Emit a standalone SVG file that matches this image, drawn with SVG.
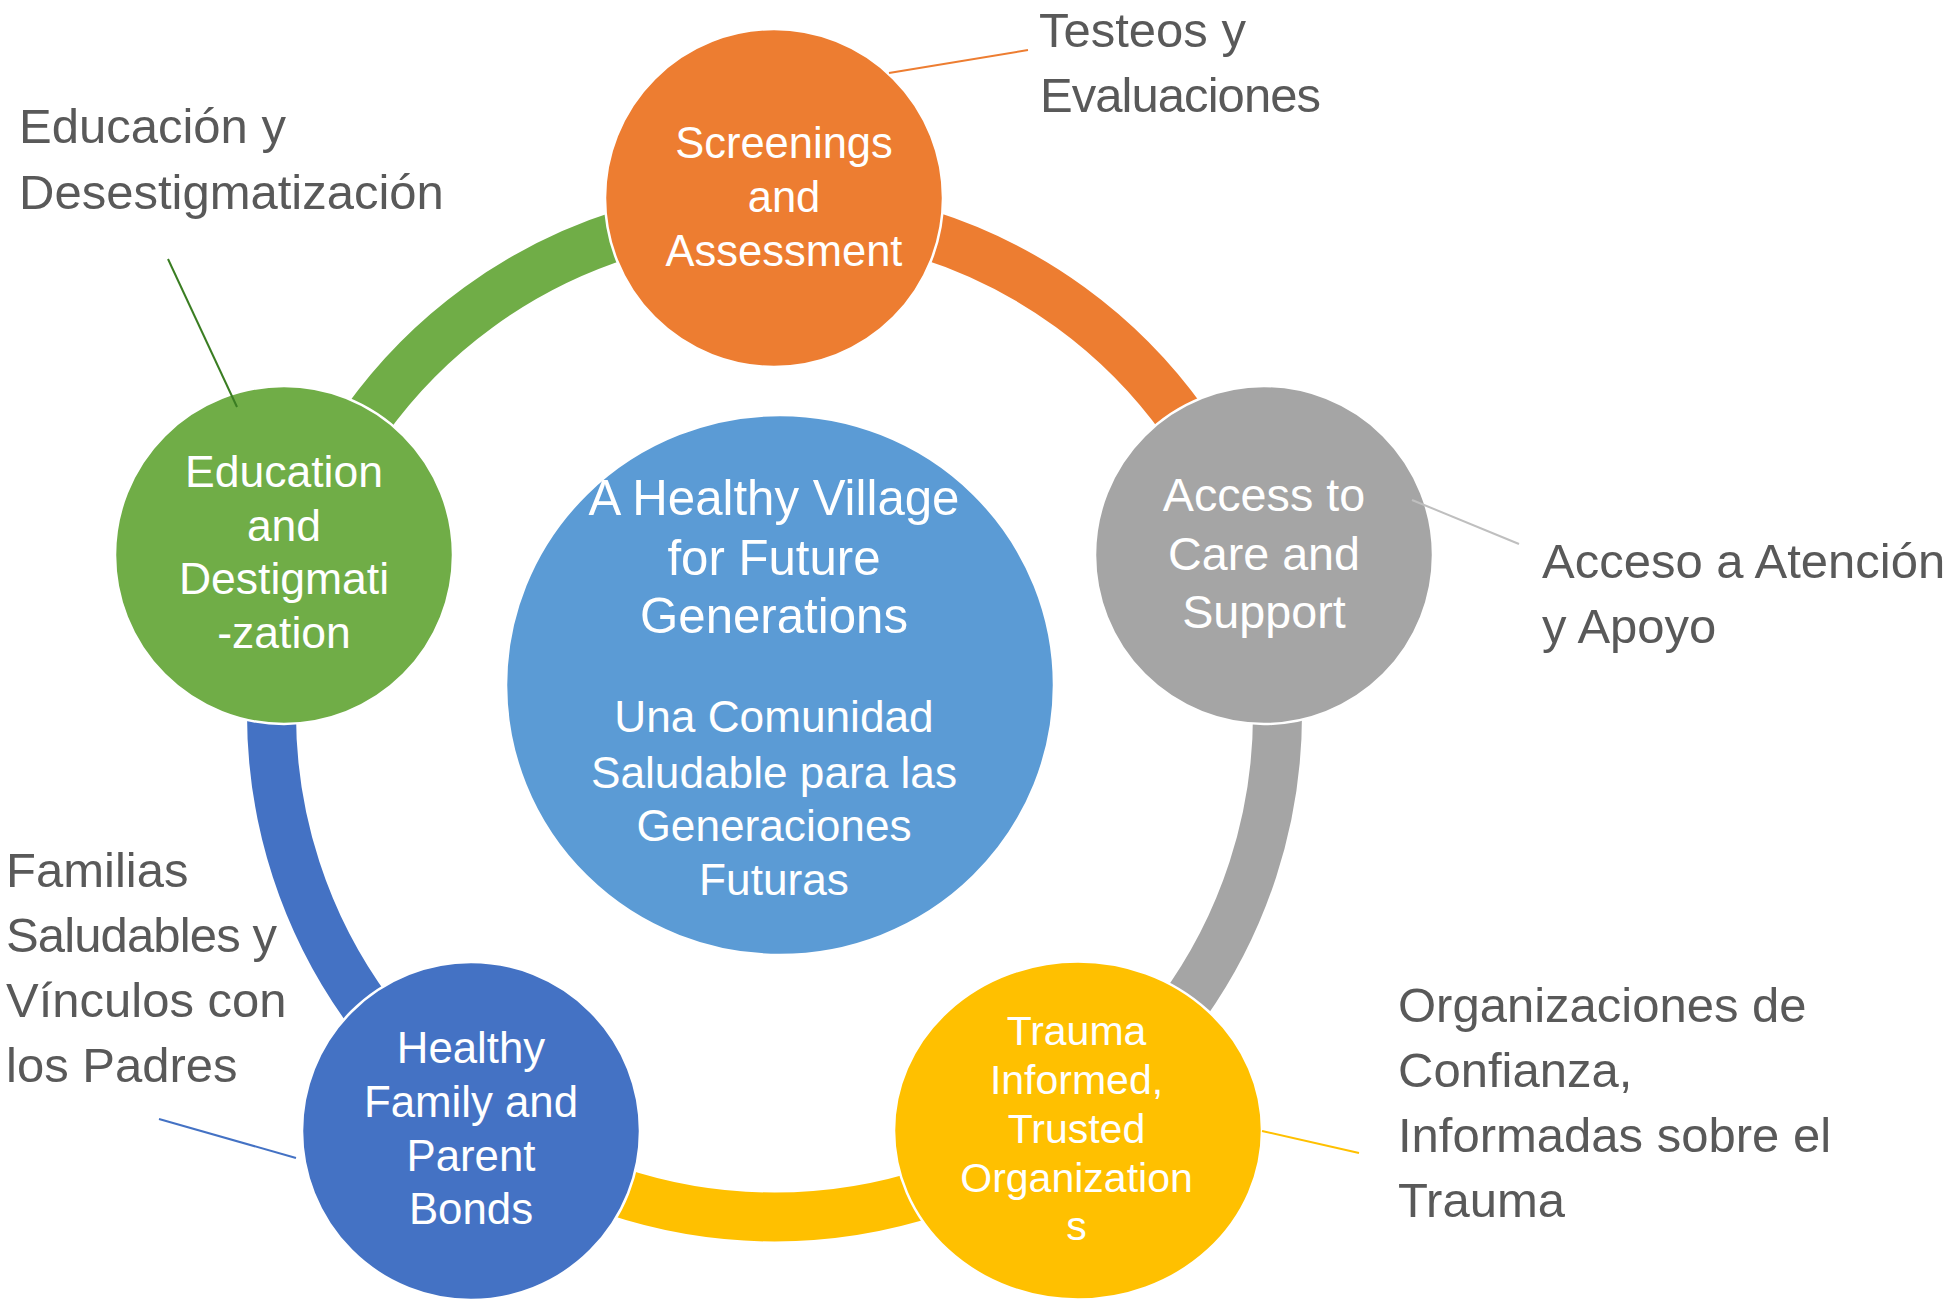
<svg xmlns="http://www.w3.org/2000/svg" width="1959" height="1311" viewBox="0 0 1959 1311">
<style>
text { font-family: "Liberation Sans", Arial, sans-serif; }
.lbl { fill: #595959; font-size: 49px; }
.node { fill: #ffffff; text-anchor: middle; }
.band { fill: none; stroke-width: 49; stroke-linecap: butt; }
.disc { stroke: #ffffff; stroke-width: 2.5; }
.leader { fill: none; stroke-width: 2; }
</style>
<rect width="1959" height="1311" fill="#ffffff"/>

<g id="connectors">
  <path class="band" stroke="#ed7d31" d="M 774.5 211 A 503 503 0 0 1 1252.9 558.6"/>
  <path class="band" stroke="#a5a5a5" d="M 1252.9 558.6 A 503 503 0 0 1 1070.2 1120.9"/>
  <path class="band" stroke="#ffc000" d="M 1070.2 1120.9 A 503 503 0 0 1 478.8 1120.9"/>
  <path class="band" stroke="#4472c4" d="M 478.8 1120.9 A 503 503 0 0 1 296.1 558.6"/>
  <path class="band" stroke="#70ad47" d="M 296.1 558.6 A 503 503 0 0 1 774.5 211"/>
</g>

<g id="center">
  <ellipse class="disc" cx="780" cy="685" rx="274" ry="270" fill="#5b9bd5"/>
  <g class="node" font-size="49.2">
    <text x="774" y="515">A Healthy Village</text>
    <text x="774" y="575">for Future</text>
    <text x="774" y="633">Generations</text>
  </g>
  <g class="node" font-size="44.2">
    <text x="774" y="732">Una Comunidad</text>
    <text x="774" y="787.5">Saludable para las</text>
    <text x="774" y="841">Generaciones</text>
    <text x="774" y="894.6">Futuras</text>
  </g>
</g>

<g id="screenings">
  <circle class="disc" cx="774" cy="198" r="169" fill="#ed7d31"/>
  <g class="node" font-size="43.5">
    <text x="784" y="157.7">Screenings</text>
    <text x="784" y="212">and</text>
    <text x="784" y="266">Assessment</text>
  </g>
</g>

<g id="access">
  <circle class="disc" cx="1264" cy="555" r="169" fill="#a5a5a5"/>
  <g class="node" font-size="46.7">
    <text x="1264" y="511">Access to</text>
    <text x="1264" y="570">Care and</text>
    <text x="1264" y="628">Support</text>
  </g>
</g>

<g id="trauma">
  <ellipse class="disc" cx="1078" cy="1130.5" rx="184" ry="169" fill="#ffc000"/>
  <g class="node" font-size="41">
    <text x="1076.5" y="1045">Trauma</text>
    <text x="1076.5" y="1094">Informed,</text>
    <text x="1076.5" y="1142.7">Trusted</text>
    <text x="1076.5" y="1191.7">Organization</text>
    <text x="1076.5" y="1240">s</text>
  </g>
</g>

<g id="family">
  <circle class="disc" cx="471" cy="1131" r="169" fill="#4472c4"/>
  <g class="node" font-size="43.8">
    <text x="471" y="1063">Healthy</text>
    <text x="471" y="1116.7">Family and</text>
    <text x="471" y="1171">Parent</text>
    <text x="471" y="1224">Bonds</text>
  </g>
</g>

<g id="education">
  <circle class="disc" cx="284" cy="555" r="169" fill="#70ad47"/>
  <g class="node" font-size="44.5">
    <text x="284" y="487.3">Education</text>
    <text x="284" y="540.7">and</text>
    <text x="284" y="594.3">Destigmati</text>
    <text x="284" y="647.7">-zation</text>
  </g>
</g>

<g id="leaders">
  <line class="leader" stroke="#ed7d31" x1="889" y1="73" x2="1028" y2="50"/>
  <line class="leader" stroke="#bfbfbf" x1="1412" y1="500" x2="1519" y2="544"/>
  <line class="leader" stroke="#ffc000" x1="1262" y1="1131" x2="1359" y2="1153"/>
  <line class="leader" stroke="#4472c4" x1="159" y1="1119" x2="296" y2="1158"/>
  <line class="leader" stroke="#3a7d22" x1="168" y1="259" x2="237" y2="407"/>
</g>

<g id="label-screenings" class="lbl">
  <text x="1039" y="46.7">Testeos y</text>
  <text x="1040" y="111.7" textLength="281">Evaluaciones</text>
</g>
<g id="label-education" class="lbl">
  <text x="19" y="142.5">Educación y</text>
  <text x="19" y="208.6">Desestigmatización</text>
</g>
<g id="label-access" class="lbl">
  <text x="1542" y="578">Acceso a Atención</text>
  <text x="1542" y="643">y Apoyo</text>
</g>
<g id="label-family" class="lbl">
  <text x="6" y="886.7">Familias</text>
  <text x="6" y="951.7" textLength="271">Saludables y</text>
  <text x="6" y="1016.7">Vínculos con</text>
  <text x="6" y="1081.7">los Padres</text>
</g>
<g id="label-trauma" class="lbl">
  <text x="1398" y="1021.7">Organizaciones de</text>
  <text x="1398" y="1086.7">Confianza,</text>
  <text x="1398" y="1151.7">Informadas sobre el</text>
  <text x="1398" y="1216.7">Trauma</text>
</g>
</svg>
